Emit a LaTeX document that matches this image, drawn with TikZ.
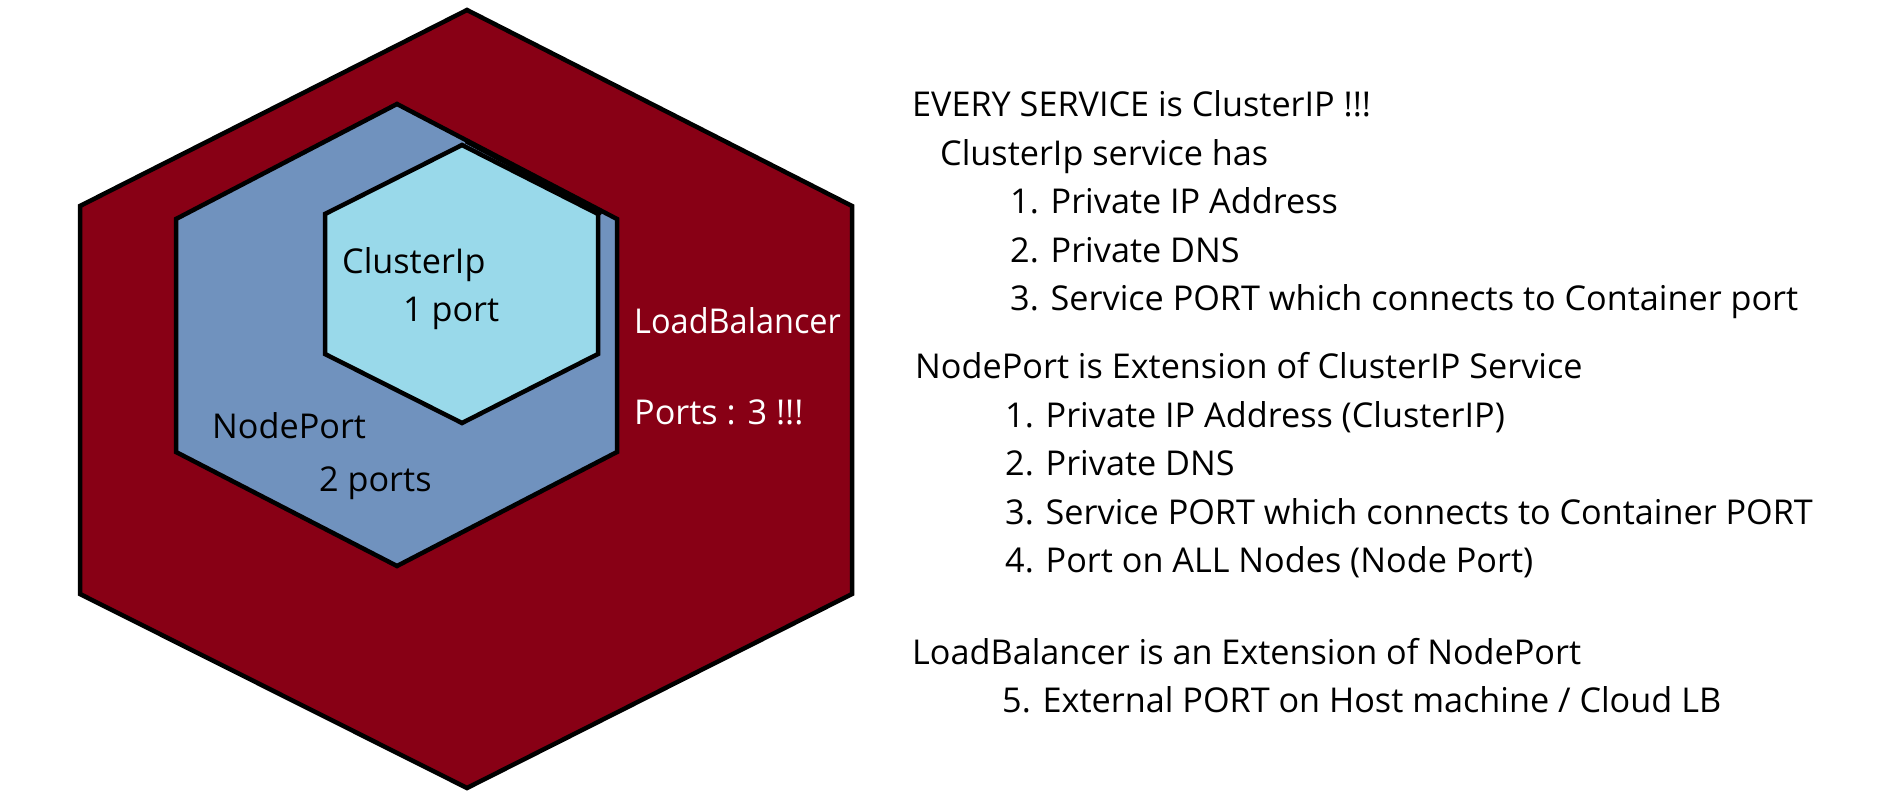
\documentclass[tikz,border=0pt]{standalone}
\usepackage{fontspec}
\setmainfont{Open Sans}
\definecolor{lbred}{HTML}{880015}
\definecolor{npblue}{HTML}{7092BE}
\definecolor{cipblue}{HTML}{99D9EA}
\begin{document}
\begin{tikzpicture}[x=1pt,y=-1pt,
	hexa/.style={draw=black,line width=4.5pt,line join=miter},
	txt/.style={anchor=base west,inner sep=0pt,font=\fontsize{34.2}{40}\selectfont},
	wtxt/.style={txt,text=white}]
	\useasboundingbox (0,0) rectangle (1892,797);
	\fill[white] (0,0) rectangle (1892,797);
	% the three services
	\draw[hexa,fill=lbred] (467,10)--(852,206)--(852,594)--(467,788)--(80,594)--(80,206)--cycle;
	\draw[hexa,fill=npblue] (397,104)--(617,219)--(617,452)--(397,566)--(176,452)--(176,219)--cycle;
	\draw[hexa,fill=cipblue] (462,145)--(598,214)--(598,354)--(462,423)--(325,354)--(325,214)--cycle;
	\draw[line width=5pt] (466,141)--(602,213);
	\node[txt] (cip) at (342,273) {ClusterIp};
	\node[txt] (cipport) at (403,321) {1 port};
	\node[txt] (np) at (212,438) {NodePort};
	\node[txt] (npport) at (319,491) {2 ports};
	\node[wtxt] (lb) at (634,333) {\scalebox{0.95}[1]{LoadBalancer}};
	\node[wtxt] (lbport) at (634,424) {Ports : 3 !!!};
	% notes on the right
	\node[txt] (every) at (912,117) {EVERY SERVICE is ClusterIP !!!};
	\node[txt] (cipnote) at (940,165) {ClusterIp service has};
	\node[txt] (cipa) at (1010,213) {1. Private IP Address};
	\node[txt] (cipb) at (1010,262) {2. Private DNS};
	\node[txt] (cipc) at (1010,310) {3. Service PORT which connects to Container port};
	\node[txt] (npnote) at (915,378) {NodePort is Extension of ClusterIP Service};
	\node[txt] (npa) at (1005,427) {1. Private IP Address (ClusterIP)};
	\node[txt] (npb) at (1005,475) {2. Private DNS};
	\node[txt] (npc) at (1005,524) {3. Service PORT which connects to Container PORT};
	\node[txt] (npd) at (1005,572) {4. Port on ALL Nodes (Node Port)};
	\node[txt] (lbnote) at (912,664) {LoadBalancer is an Extension of NodePort};
	\node[txt] (lba) at (1002,712) {5. External PORT on Host machine / Cloud LB};
\end{tikzpicture}
\end{document}
